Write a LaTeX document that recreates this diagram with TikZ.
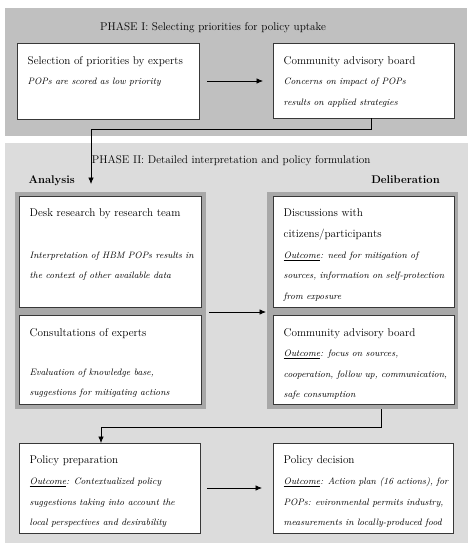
\documentclass[tikz,border=0pt]{standalone}
\usepackage{xcolor}
\usepackage{tikz}
\usetikzlibrary{positioning,arrows.meta}
\definecolor{grigioA}{HTML}{C0C0C0}
\definecolor{grigioB}{HTML}{DCDCDC}
\definecolor{grigioC}{HTML}{A8A8A8}
\definecolor{bordo}{HTML}{383838}
\newcommand{\titolo}[1]{{\upshape\fontsize{11.2}{20.6}\selectfont #1}}

\begin{document}
\begin{tikzpicture}[x=1pt,y=-1pt,
    fase/.style={anchor=north west, inner sep=0pt, outer sep=0pt},
    cornice/.style={fill=grigioC, anchor=north west, inner sep=0pt, outer sep=0pt},
    scatola/.style={draw=bordo, line width=0.8pt, fill=white, anchor=north west, inner sep=0pt, outer sep=0pt},
    testo/.style={inner sep=0pt, align=left, font=\fontsize{9.3}{20.6}\selectfont\itshape},
    intest/.style={inner sep=0pt, font=\fontsize{11.2}{13}\selectfont},
    freccia/.style={draw=black, line width=0.7pt, -{Latex[length=6.5pt,width=5.5pt]}},
    node distance=13pt and 10.5pt]
        \fill[white] (0,0) rectangle (474,550);
        \useasboundingbox (0,0) rectangle (474,550);
        % fase I
        \node[fase, fill=grigioA, minimum width=462pt, minimum height=128pt] (f1) at (5,8) {};
        \node[intest, anchor=base west] (t1) at (100,30.5) {PHASE I: Selecting priorities for policy uptake};
        \node[scatola, minimum width=182pt, minimum height=76pt] (sel) at (17,43) {};
        \node[scatola, minimum width=181pt, minimum height=75pt] (cab1) at (273,43) {};
        \node[testo, below right=of sel.north west] (tsel) {\titolo{Selection of priorities by experts}\\
            POPs are scored as low priority};
        \node[testo, below right=of cab1.north west] (tcab1) {\titolo{Community advisory board}\\
            Concerns on impact of POPs\\ results on applied strategies};
        % fase II
        \node[fase, fill=grigioB, minimum width=463pt, minimum height=400pt] (f2) at (5,143) {};
        \node[intest, anchor=base west] (t2) at (91.7,163.3) {PHASE II: Detailed interpretation and policy formulation};
        \node[intest, font=\fontsize{11.2}{13}\selectfont\bfseries, anchor=base west] (ana) at (28.3,183.3) {Analysis};
        \node[intest, font=\fontsize{11.2}{13}\selectfont\bfseries, anchor=base east] (del) at (440,183.3) {Deliberation};
        \node[cornice, minimum width=191pt, minimum height=217pt] (lf) at (15,192) {};
        \node[cornice, minimum width=191pt, minimum height=217pt] (rf) at (267,192) {};
        \node[scatola, minimum width=182pt, minimum height=111pt] (desk) at (19,196) {};
        \node[scatola, minimum width=182pt, minimum height=89pt] (cons) at (19,315) {};
        \node[scatola, minimum width=181pt, minimum height=111pt] (disc) at (273,196) {};
        \node[scatola, minimum width=181pt, minimum height=89pt] (cab2) at (273,315) {};
        \node[scatola, minimum width=181pt, minimum height=90pt] (prep) at (19,443) {};
        \node[scatola, minimum width=180pt, minimum height=90pt] (dec) at (273,443) {};
        \node[testo, below right=of desk.north west] (tdesk) {\titolo{Desk research by research team}\\[20.6pt]
            Interpretation of HBM POPs results in\\ the context of other available data};
        \node[testo, below right=of cons.north west] (tcons) {\titolo{Consultations of experts}\\[18.5pt]
            Evaluation of knowledge base,\\ suggestions for mitigating actions};
        \node[testo, below right=of disc.north west] (tdisc) {\titolo{Discussions with}\\ \titolo{citizens/participants}\\
            \underline{Outcome}: need for mitigation of\\ sources, information on self-protection\\ from exposure};
        \node[testo, below right=of cab2.north west] (tcab2) {\titolo{Community advisory board}\\
            \underline{Outcome}: focus on sources,\\ cooperation, follow up, communication,\\ safe consumption};
        \node[testo, below right=of prep.north west] (tprep) {\titolo{Policy preparation}\\
            \underline{Outcome}: Contextualized policy\\ suggestions taking into account the\\ local perspectives and desirability};
        \node[testo, below right=of dec.north west] (tdec) {\titolo{Policy decision}\\
            \underline{Outcome}: Action plan (16 actions), for\\ POPs: evironmental permits industry,\\ measurements in locally-produced food};
        % frecce
        \coordinate (punta1) at (91,184);
        \draw[freccia] ([xshift=8pt]sel.east) -- ([xshift=-10pt]sel.east -| cab1.west);
        \draw[freccia] ([xshift=7.5pt]cab1.south) -- ++(0,11) -| (punta1);
        \draw[freccia] ([shift={(3pt,-11.5pt)}]lf.east) -- ([shift={(-1pt,-11.5pt)}]rf.west);
        \draw[freccia] ([xshift=18.5pt]rf.south) -- ++(0,18.5) -| ([xshift=-8.5pt]prep.north);
        \draw[freccia] ([xshift=7pt]prep.east) -- ([xshift=-11pt]prep.east -| dec.west);
    \end{tikzpicture}
\end{document}
